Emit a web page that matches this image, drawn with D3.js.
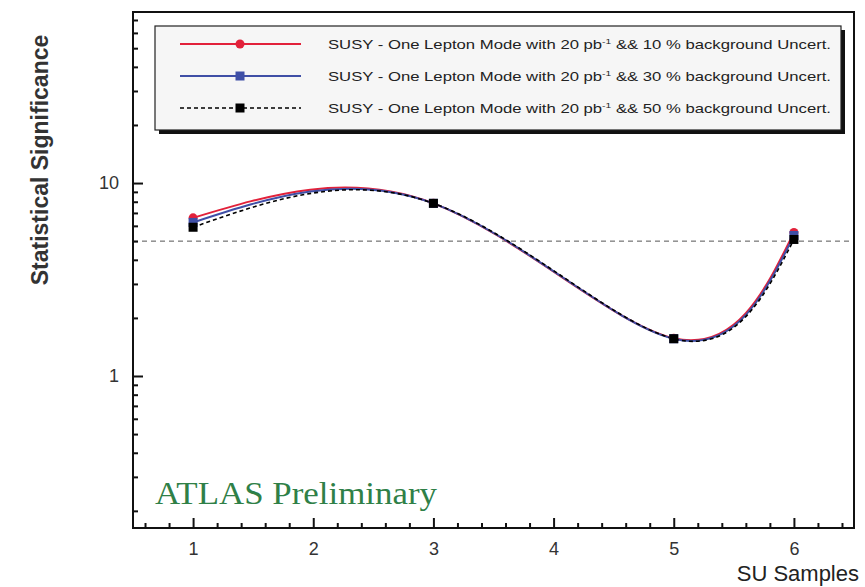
<!DOCTYPE html>
<html>
<head>
<meta charset="utf-8">
<script src="https://cdn.jsdelivr.net/npm/d3@7"></script>
<style>
	body { margin: 0; background: #fff; }
	.tick text { font-family: "Liberation Sans", Arial, sans-serif; font-size: 18px; fill: #333; }
</style>
</head>
<body>
<script>
//chart data
var samples = [1, 3, 5, 6];
var sig10 = [6.6, 7.85, 1.57, 5.55];
var sig30 = [6.25, 7.85, 1.56, 5.35];
var sig50 = [5.9, 7.85, 1.56, 5.1];
var seriesNames = [
	"SUSY - One Lepton Mode with 20 pb|-1| && 10 % background Uncert.",
	"SUSY - One Lepton Mode with 20 pb|-1| && 30 % background Uncert.",
	"SUSY - One Lepton Mode with 20 pb|-1| && 50 % background Uncert."
];
var xTicks = [1, 2, 3, 4, 5, 6];
var yTicks = [1, 10];
var threshold = 5;

window.onload = setChart();

function setChart(){

	var width = 865,
		height = 587;

	//svg container
	var svg = d3.select("body")
		.append("svg")
		.attr("width", width)
		.attr("height", height);

	//frame edges
	var left = 133, right = 854, top = 12, bottom = 528;

	var x = d3.scaleLinear()
		.domain([0.5, 6.5])
		.range([left, right]);

	var y = d3.scaleLog()
		.domain([0.163, 77])
		.range([bottom, top]);

	//minor ticks
	var xMinor = d3.range(0.6, 6.45, 0.2).map(function(d){ return Math.round(d * 10) / 10; })
		.filter(function(d){ return Math.abs(d - Math.round(d)) > 0.01; });
	var yMinor = [];
	[0.1, 1, 10].forEach(function(p){
		for (var k = 2; k <= 9; k++){
			var v = k * p;
			if (v > 0.163 && v < 77) yMinor.push(v);
		}
	});

	var series = [
		{values: sig10, color: "#e2213a", dash: null, width: 2, marker: "circle"},
		{values: sig30, color: "#3f4fa6", dash: null, width: 2, marker: "square"},
		{values: sig50, color: "#000", dash: "4,3", width: 1.6, marker: "square"}
	];

	//dashed line at 5 sigma
	svg.append("line")
		.attr("x1", left)
		.attr("x2", right)
		.attr("y1", y(threshold))
		.attr("y2", y(threshold))
		.attr("stroke", "#555")
		.attr("stroke-width", 1)
		.attr("stroke-dasharray", "5,4");

	//smooth curves
	var line = d3.line()
		.x(function(d, i){ return x(samples[i]); })
		.y(function(d){ return y(d); })
		.curve(d3.curveNatural);

	series.forEach(function(s){
		svg.append("path")
			.datum(s.values)
			.attr("fill", "none")
			.attr("stroke", s.color)
			.attr("stroke-width", s.width)
			.attr("stroke-dasharray", s.dash)
			.attr("d", line);
	});

	//markers
	series.forEach(function(s){
		drawMarkers(svg, s, s.values.map(function(v, i){ return [x(samples[i]), y(v)]; }));
	});

	//frame
	svg.append("rect")
		.attr("x", left)
		.attr("y", top)
		.attr("width", right - left)
		.attr("height", bottom - top)
		.attr("fill", "none")
		.attr("stroke", "#111")
		.attr("stroke-width", 2);

	//x axis, major and minor ticks
	svg.append("g")
		.attr("transform", "translate(0," + bottom + ")")
		.call(d3.axisBottom(x).tickValues(xTicks).tickSize(-10).tickPadding(14).tickFormat(d3.format("d")));
	svg.append("g")
		.attr("transform", "translate(0," + bottom + ")")
		.call(d3.axisBottom(x).tickValues(xMinor).tickSize(-5).tickFormat(""));

	//y axis, major and minor ticks
	svg.append("g")
		.attr("transform", "translate(" + left + ",0)")
		.call(d3.axisLeft(y).tickValues(yTicks).tickSize(-10).tickPadding(14).tickFormat(d3.format("d")));
	svg.append("g")
		.attr("transform", "translate(" + left + ",0)")
		.call(d3.axisLeft(y).tickValues(yMinor).tickSize(-5).tickFormat(""));

	svg.selectAll(".domain").remove();
	svg.selectAll(".tick line").attr("stroke", "#111").attr("stroke-width", 2);

	//axis titles
	svg.append("text")
		.attr("transform", "translate(48,160) rotate(-90)")
		.attr("text-anchor", "middle")
		.style("font-family", "'Liberation Sans', Arial, sans-serif")
		.style("font-size", "23px")
		.style("font-weight", "bold")
		.attr("fill", "#333")
		.text("Statistical Significance");

	svg.append("text")
		.attr("x", 859)
		.attr("y", 581)
		.attr("text-anchor", "end")
		.style("font-family", "'Liberation Sans', Arial, sans-serif")
		.style("font-size", "22px")
		.attr("fill", "#222")
		.text("SU Samples");

	//ATLAS label
	svg.append("text")
		.attr("x", 155)
		.attr("y", 504)
		.attr("textLength", 282)
		.attr("lengthAdjust", "spacingAndGlyphs")
		.style("font-family", "'Liberation Serif', 'DejaVu Serif', serif")
		.style("font-size", "32px")
		.attr("fill", "#2f8047")
		.text("ATLAS Preliminary");

	//legend box with shadow
	var lx = 155, ly = 26, lw = 686, lh = 104;
	svg.append("rect")
		.attr("x", lx + 4).attr("y", ly + 4)
		.attr("width", lw).attr("height", lh)
		.attr("fill", "#111");
	svg.append("rect")
		.attr("x", lx).attr("y", ly)
		.attr("width", lw).attr("height", lh)
		.attr("fill", "#f6f6f6")
		.attr("stroke", "#222")
		.attr("stroke-width", 1.2);

	var legend = svg.selectAll(".legendItem")
		.data(series)
		.enter()
		.append("g")
		.attr("class", "legendItem")
		.attr("transform", function(d, i){ return "translate(0," + (ly + 18 + i * 32) + ")"; });

	legend.append("line")
		.attr("x1", 180)
		.attr("x2", 301)
		.attr("stroke", function(d){ return d.color; })
		.attr("stroke-width", function(d){ return d.width; })
		.attr("stroke-dasharray", function(d){ return d.dash; });

	legend.each(function(d){
		drawMarkers(d3.select(this), d, [[240, 0]]);
	});

	legend.append("text")
		.attr("x", 328)
		.attr("y", 5)
		.attr("textLength", 503)
		.attr("lengthAdjust", "spacingAndGlyphs")
		.style("font-family", "'Liberation Sans', Arial, sans-serif")
		.style("font-size", "13px")
		.attr("fill", "#222")
		.each(function(d, i){
			var parts = seriesNames[i].split("|");
			var t = d3.select(this);
			t.append("tspan").text(parts[0]);
			t.append("tspan").attr("dy", -5).style("font-size", "8px").text(parts[1]);
			t.append("tspan").attr("dy", 5).text(" " + parts[2]);
		});
};

//draw circle or square markers at pixel positions
function drawMarkers(g, s, pts){
	if (s.marker == "circle"){
		g.selectAll(null)
			.data(pts)
			.enter()
			.append("circle")
			.attr("cx", function(p){ return p[0]; })
			.attr("cy", function(p){ return p[1]; })
			.attr("r", 4.5)
			.attr("fill", s.color);
	} else {
		g.selectAll(null)
			.data(pts)
			.enter()
			.append("rect")
			.attr("x", function(p){ return p[0] - 4.5; })
			.attr("y", function(p){ return p[1] - 4.5; })
			.attr("width", 9)
			.attr("height", 9)
			.attr("fill", s.color);
	}
};
</script>
</body>
</html>
